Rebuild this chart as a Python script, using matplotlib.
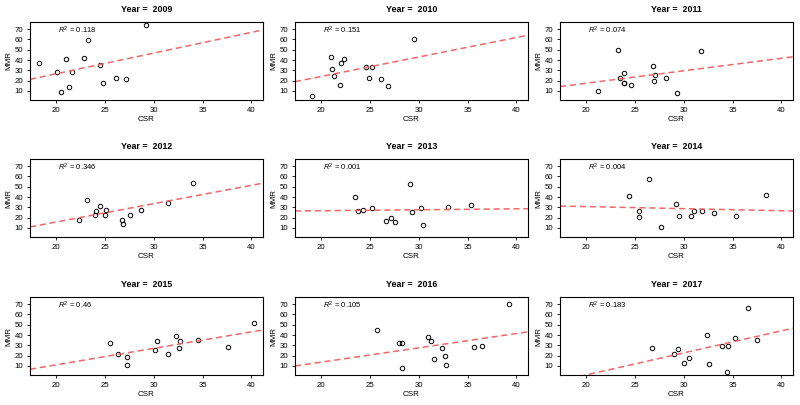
import numpy as np
import matplotlib
matplotlib.use("Agg")
import matplotlib.pyplot as plt

plt.rcParams['font.family'] = ['Liberation Sans', 'DejaVu Sans']
plt.rcParams['mathtext.fontset'] = 'custom'
plt.rcParams['mathtext.rm'] = 'Liberation Sans'
plt.rcParams['mathtext.it'] = 'Liberation Sans:italic'

years = [2009, 2010, 2011, 2012, 2013, 2014, 2015, 2016, 2017]

csr_2009 = [18.2, 20.1, 21.0, 20.5, 21.3, 21.6, 22.8, 23.2, 24.5, 24.8, 26.1, 27.1, 29.2]
mmr_2009 = [36.8, 28.7, 40.6, 9.4, 13.5, 28.4, 42.3, 59.4, 34.8, 17.7, 22.9, 21.9, 74.2]

csr_2010 = [19.0, 21.0, 21.1, 21.3, 21.9, 22.0, 22.3, 24.6, 25.2, 24.9, 26.1, 26.8, 29.5]
mmr_2010 = [4.8, 42.9, 31.6, 24.8, 15.8, 37.4, 41.0, 33.5, 33.5, 22.6, 21.6, 15.2, 60.6]

csr_2011 = [21.2, 23.2, 23.5, 23.9, 23.9, 23.9, 24.6, 26.8, 27.0, 26.9, 28.2, 29.3, 31.8]
mmr_2011 = [10.3, 49.7, 22.6, 27.1, 18.1, 17.7, 15.8, 34.2, 25.8, 19.4, 22.9, 7.7, 49.0]

csr_2012 = [22.3, 23.1, 24.0, 24.1, 24.5, 25.1, 25.0, 26.7, 26.8, 27.6, 28.7, 31.5, 34.0]
mmr_2012 = [17.4, 36.8, 22.6, 26.5, 31.3, 27.4, 22.6, 18.1, 14.2, 22.6, 27.7, 33.9, 53.9]

csr_2013 = [23.5, 23.8, 24.3, 25.2, 26.6, 27.1, 27.6, 29.1, 29.3, 30.2, 30.4, 33.0, 35.4]
mmr_2013 = [39.7, 26.8, 27.1, 29.0, 16.8, 19.7, 15.5, 52.6, 25.2, 29.0, 12.6, 30.6, 32.3]

csr_2014 = [24.4, 25.4, 25.4, 26.4, 27.7, 29.2, 29.5, 30.7, 31.0, 31.9, 33.1, 35.4, 38.4]
mmr_2014 = [41.0, 26.5, 21.0, 57.7, 10.6, 33.2, 21.3, 21.3, 26.1, 26.1, 24.8, 21.3, 41.9]

csr_2015 = [25.5, 26.3, 27.3, 27.2, 30.1, 30.3, 31.5, 32.3, 32.7, 32.6, 34.5, 37.6, 40.3]
mmr_2015 = [32.3, 21.6, 18.7, 10.6, 25.2, 34.5, 21.6, 39.0, 33.9, 27.1, 35.2, 28.1, 51.9]

csr_2016 = [25.7, 28.0, 28.3, 28.3, 30.9, 31.3, 31.6, 32.4, 32.7, 32.8, 35.7, 36.5, 39.3]
mmr_2016 = [45.2, 32.3, 32.3, 8.4, 37.7, 34.2, 16.8, 27.1, 19.7, 11.3, 28.7, 29.7, 70.6]

csr_2017 = [26.7, 29.0, 29.4, 30.0, 30.5, 32.4, 32.6, 33.9, 34.5, 34.4, 35.3, 36.6, 37.5]
mmr_2017 = [27.7, 21.6, 26.5, 12.9, 17.4, 39.7, 12.3, 29.4, 29.0, 4.5, 37.4, 66.1, 35.2]

csr_all = [csr_2009, csr_2010, csr_2011, csr_2012, csr_2013, csr_2014, csr_2015, csr_2016, csr_2017]
mmr_all = [mmr_2009, mmr_2010, mmr_2011, mmr_2012, mmr_2013, mmr_2014, mmr_2015, mmr_2016, mmr_2017]

# fitted lines (intercept, slope)
intercepts = [-13.5, -13.7, -6.7, -19.8, 24.9, 34.75, -20.9, -14.1, -41.5]
slopes = [2.01, 1.89, 1.21, 1.78, 0.092, -0.2, 1.6, 1.39, 2.14]
r2_labels = ['0.118', '0.151', '0.074', '0.346', '0.001', '0.004', '0.46', '0.105', '0.183']

W, H = 800, 405
fig = plt.figure(figsize=(W / 100, H / 100), dpi=100)

col_left = [30, 295, 560]
row_top = [22, 159, 297]
ax_w, ax_h = 233, 78

for i in range(9):
    r, c = divmod(i, 3)
    ax = fig.add_axes([col_left[c] / W, 1 - (row_top[r] + ax_h) / H, ax_w / W, ax_h / H])
    ax.plot(csr_all[i], mmr_all[i], 'o', mfc='none', mec='black', ms=3.2, mew=0.7)
    ax.set_xlim(17.3, 41.2)
    ax.set_ylim(1.2, 77.0)
    xs = np.array([17.3, 41.2])
    ax.plot(xs, intercepts[i] + slopes[i] * xs, '--', color='#f26666', lw=1.1, dashes=(4, 2.5))
    ax.set_xticks([20, 25, 30, 35, 40])
    ax.set_yticks([10, 20, 30, 40, 50, 60, 70])
    ax.tick_params(labelsize=5.6, length=2.5, width=0.6, pad=2.5)
    for s in ax.spines.values():
        s.set_linewidth(0.8)
    ax.set_xlabel('CSR', fontsize=5.8, labelpad=1.5)
    ax.set_ylabel('MMR', fontsize=5.8, labelpad=1.5)
    ax.set_title('Year =  %d' % years[i], fontsize=6.4, fontweight='bold', pad=7)
    ax.text(20.2, 69, r'$R^2$ = ' + r2_labels[i], fontsize=5.5, va='center')

fig.savefig('out.png', dpi=100)
